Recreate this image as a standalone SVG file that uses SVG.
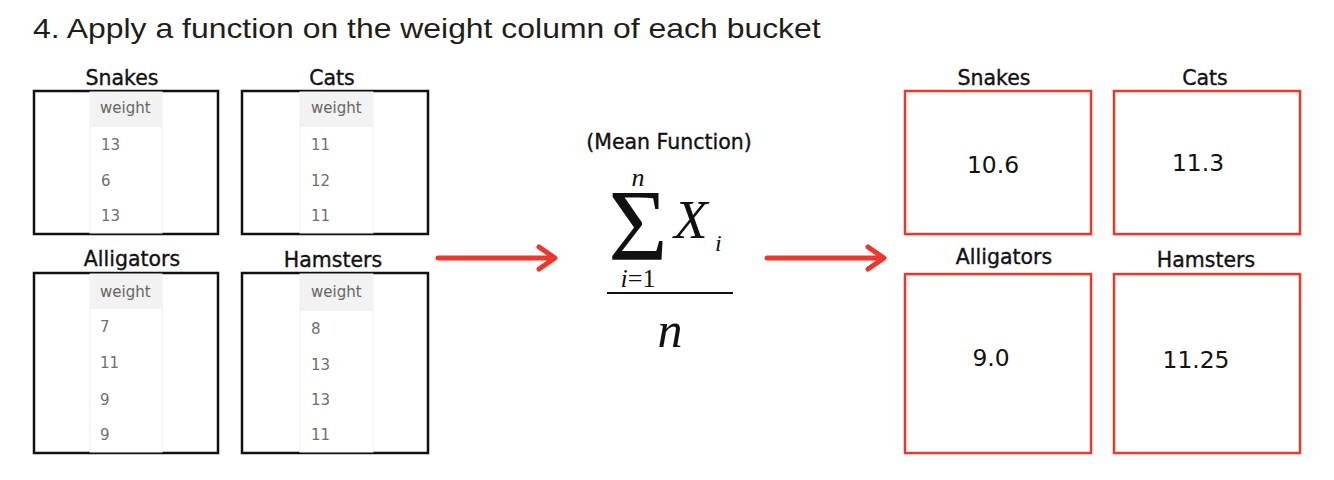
<svg xmlns="http://www.w3.org/2000/svg" width="1334" height="480" viewBox="0 0 1334 480">
<style>
.title{font-family:"Liberation Sans",Arial,sans-serif;font-size:28.5px;fill:#1e1e1a}
.lbl{font-family:"DejaVu Sans",Verdana,sans-serif;font-size:20.5px;fill:#111;stroke:#111;stroke-width:0.35;text-anchor:middle}
.box{fill:#fff;stroke:#111;stroke-width:2.5}
.rbox{fill:#fff;stroke:#e8392c;stroke-width:2.5}
.col{fill:#fff;stroke:#eeeeee;stroke-width:1}
.hdr{fill:#f2f2f2}
.th{font-family:"DejaVu Sans",Verdana,sans-serif;font-size:15px;fill:#666}
.td{font-family:"DejaVu Sans",Verdana,sans-serif;font-size:15px;fill:#6f6f6f}
.val{font-family:"DejaVu Sans",Verdana,sans-serif;font-size:23.4px;fill:#111;text-anchor:middle}
.math{font-family:"Liberation Serif","Times New Roman",serif;fill:#111}
.arr{fill:none;stroke:#e8392c;stroke-width:5;stroke-linecap:round;stroke-linejoin:round}
</style>
<text class="title" transform="translate(33,38) scale(1.12,1)">4. Apply a function on the weight column of each bucket</text>

<g id="snakes-table">
<text class="lbl" x="122" y="85">Snakes</text>
<rect class="box" x="34" y="91" width="184" height="143"/>
<rect class="col" x="90" y="92" width="72" height="141"/>
<rect class="hdr" x="90.5" y="92" width="71" height="35"/>
<text class="th" x="100" y="113">weight</text>
<text class="td" x="101" y="150">13</text>
<text class="td" x="101" y="186">6</text>
<text class="td" x="101" y="221">13</text>
</g>

<g id="cats-table">
<text class="lbl" x="332" y="85">Cats</text>
<rect class="box" x="242" y="91" width="186" height="143"/>
<rect class="col" x="300" y="92" width="73" height="141"/>
<rect class="hdr" x="300.5" y="92" width="72" height="35"/>
<text class="th" x="311" y="113">weight</text>
<text class="td" x="311" y="150">11</text>
<text class="td" x="311" y="186">12</text>
<text class="td" x="311" y="221">11</text>
</g>

<g id="alligators-table">
<text class="lbl" x="132" y="266">Alligators</text>
<rect class="box" x="34" y="273" width="184" height="180"/>
<rect class="col" x="90" y="274" width="72" height="178"/>
<rect class="hdr" x="90.5" y="275" width="71" height="34"/>
<text class="th" x="100" y="297">weight</text>
<text class="td" x="100" y="332">7</text>
<text class="td" x="100" y="368">11</text>
<text class="td" x="100" y="405">9</text>
<text class="td" x="100" y="440">9</text>
</g>

<g id="hamsters-table">
<text class="lbl" x="333" y="267">Hamsters</text>
<rect class="box" x="242" y="273" width="186" height="180"/>
<rect class="col" x="300" y="274" width="73" height="178"/>
<rect class="hdr" x="300.5" y="275" width="72" height="36"/>
<text class="th" x="311" y="297">weight</text>
<text class="td" x="311" y="334">8</text>
<text class="td" x="311" y="370">13</text>
<text class="td" x="311" y="405">13</text>
<text class="td" x="311" y="440">11</text>
</g>

<g id="connectors">
<path class="arr" d="M438 258 H554 M539 247 L555 258 L539 269"/>
<path class="arr" d="M767 258 H883 M868 247 L884 258 L868 269"/>
</g>

<g id="mean-function">
<text class="lbl" x="669" y="149">(Mean Function)</text>
<text class="math" x="638" y="186" font-size="26" font-style="italic" text-anchor="middle">n</text>
<text class="math" x="638" y="260" font-size="102" text-anchor="middle">Σ</text>
<text class="math" x="674" y="238" font-size="55" font-style="italic">X</text>
<text class="math" x="715" y="251" font-size="24" font-style="italic">i</text>
<text class="math" x="638" y="287" font-size="26" text-anchor="middle"><tspan font-style="italic">i</tspan>=1</text>
<line x1="607" y1="293" x2="733" y2="293" stroke="#111" stroke-width="2"/>
<text class="math" x="670" y="347" font-size="50" font-style="italic" text-anchor="middle">n</text>
</g>

<g id="snakes-result">
<text class="lbl" x="994" y="85">Snakes</text>
<rect class="rbox" x="905" y="91" width="186" height="143"/>
<text class="val" x="993" y="173">10.6</text>
</g>
<g id="cats-result">
<text class="lbl" x="1205" y="85">Cats</text>
<rect class="rbox" x="1114" y="91" width="186" height="143"/>
<text class="val" x="1198" y="171">11.3</text>
</g>
<g id="alligators-result">
<text class="lbl" x="1004" y="264">Alligators</text>
<rect class="rbox" x="905" y="274" width="186" height="179"/>
<text class="val" x="991" y="366">9.0</text>
</g>
<g id="hamsters-result">
<text class="lbl" x="1206" y="267">Hamsters</text>
<rect class="rbox" x="1114" y="274" width="186" height="179"/>
<text class="val" x="1196" y="368">11.25</text>
</g>
</svg>
